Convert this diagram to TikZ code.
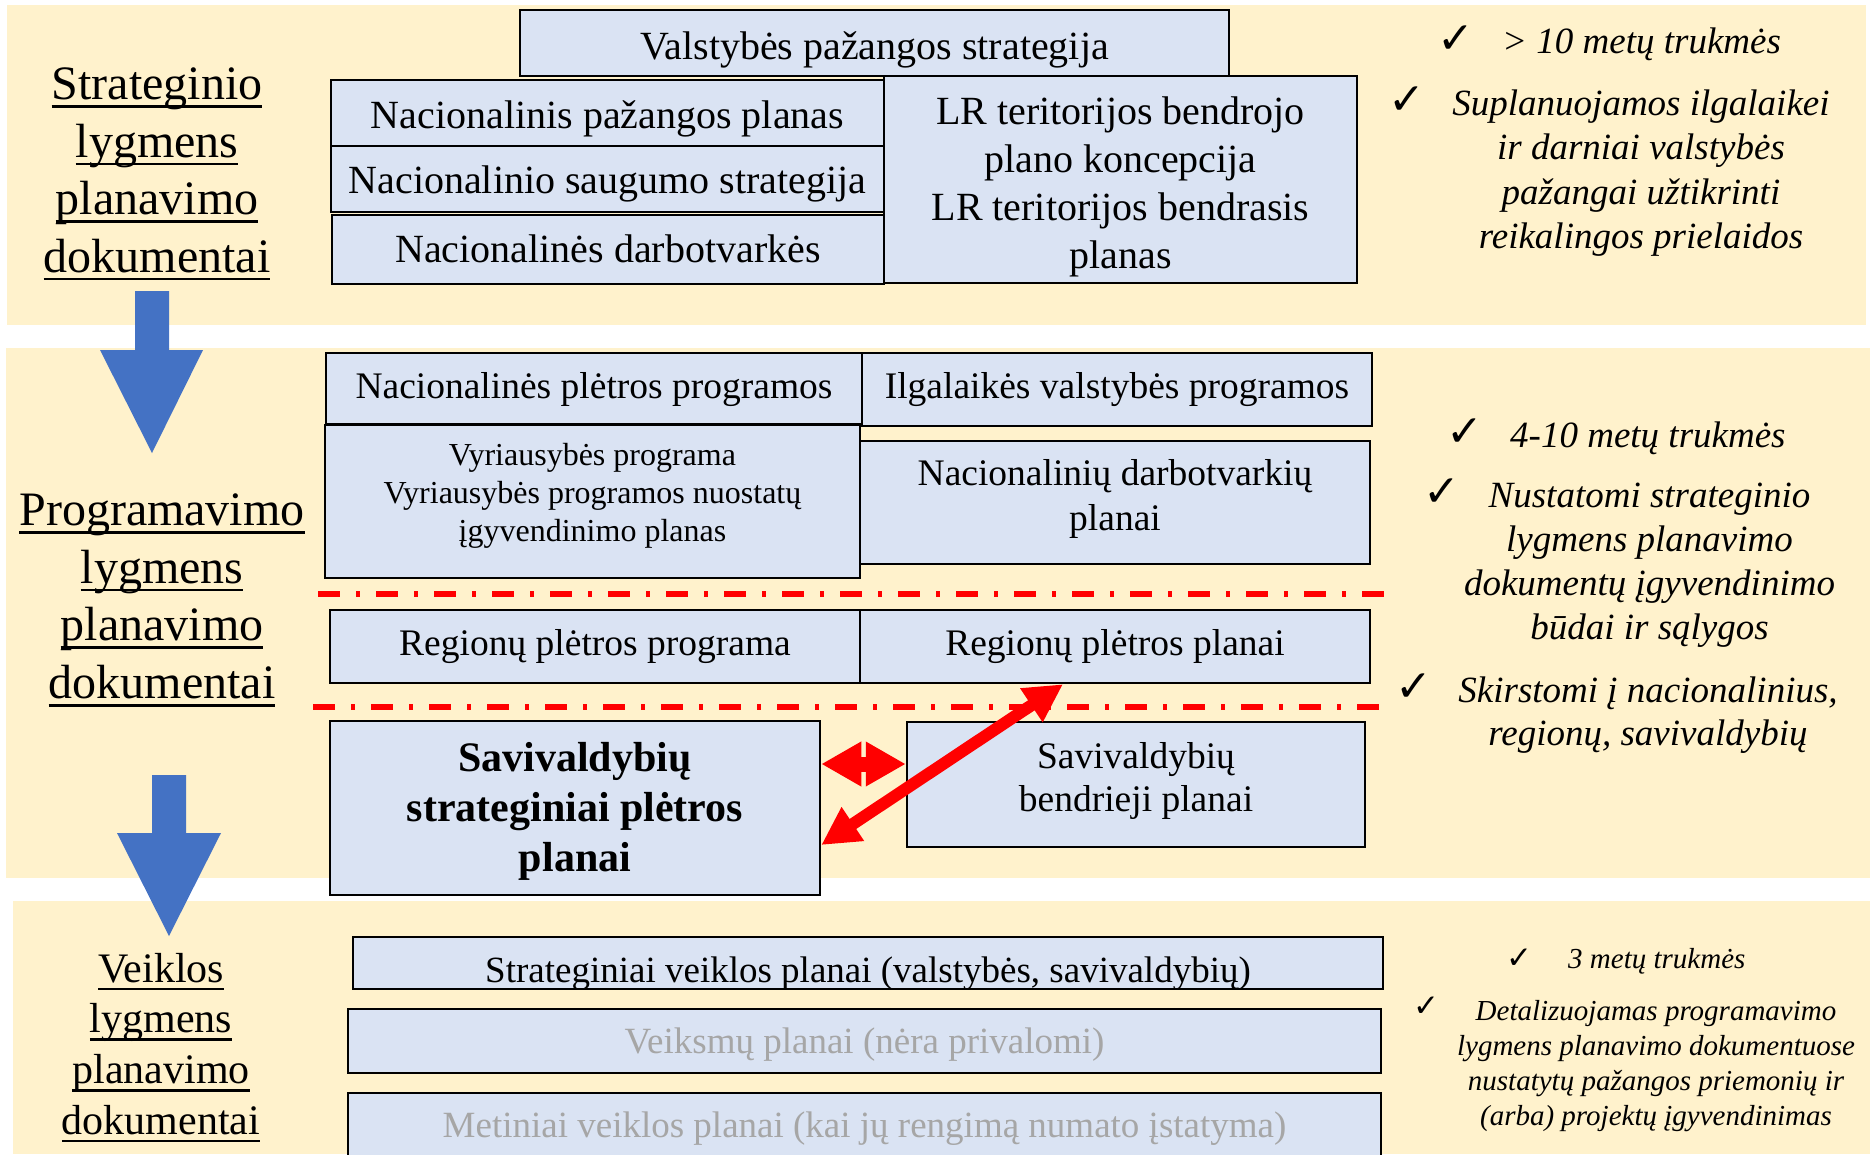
\documentclass[tikz,border=0pt]{standalone}
\usepackage{fontspec}
\setmainfont{Liberation Serif}
\newfontfamily\symfont{DejaVu Sans}
\usetikzlibrary{arrows.meta}
\definecolor{bandbg}{HTML}{FFF2CC}
\definecolor{boxbg}{HTML}{DAE3F3}
\definecolor{arrblue}{HTML}{4472C4}
\definecolor{txtgrey}{HTML}{A6A6A6}
\definecolor{arrred}{HTML}{FF0000}
\newcommand\ulx[1]{\setbox0\hbox{#1}\rlap{\rule[-8pt]{\wd0}{2.5pt}}\box0}
\newcommand\ml[1]{\begin{tabular}[t]{@{}c@{}}#1\end{tabular}}
\tikzset{
  band/.style={fill=bandbg, draw=none},
  docbox/.style={draw=black, line width=2.5pt, fill=boxbg, inner sep=0pt, text=black},
  fA/.style={font=\fontsize{40}{48}\selectfont},
  fB/.style={font=\fontsize{37.5}{45}\selectfont},
  fC/.style={font=\fontsize{37}{44}\selectfont},
  lab/.style={inner sep=0pt, anchor=base},
  chkbig/.style={inner sep=0pt, anchor=base, font=\symfont\bfseries\fontsize{44}{48}\selectfont},
  chksmall/.style={inner sep=0pt, anchor=base, font=\symfont\bfseries\fontsize{31}{34}\selectfont},
  itbig/.style={inner sep=0pt, font=\itshape\fontsize{37}{44.5}\selectfont},
  itsmall/.style={inner sep=0pt, font=\itshape\fontsize{29}{35}\selectfont},
  sepline/.style={draw=arrred, line width=6pt, dash pattern=on 22pt off 16pt on 4pt off 16pt},
  redarr/.style={draw=arrred, line width=#1},
}
\begin{document}
\begin{tikzpicture}[x=1pt,y=-1pt]
\useasboundingbox (0,0) rectangle (1870,1154);
% bands
\fill[band] (7,5) rectangle (1866,325);
\fill[band] (6,348) rectangle (1870,878);
\fill[band] (13,901) rectangle (1870,1154);
% blue block arrows
\fill[arrblue] (135,291) -- (169,291) -- (169,350) -- (203,350) -- (152,453) -- (100,350) -- (135,350) -- cycle;
\fill[arrblue] (152,775) -- (186,775) -- (186,833) -- (221,833) -- (169,936) -- (117,833) -- (152,833) -- cycle;
% separator lines
\draw[sepline] (318,594) -- (1388,594);
\draw[sepline] (313,707) -- (1385,707);
% left labels
\node[lab, font=\fontsize{48}{57.5}\selectfont] (labS) at (157,99.5)
  {\ml{\ulx{Strateginio}\\\ulx{lygmens}\\\ulx{planavimo}\\\ulx{dokumentai}}};
\node[lab, font=\fontsize{48}{57.7}\selectfont] (labP) at (162,525.5)
  {\ml{\ulx{Programavimo}\\\ulx{lygmens}\\\ulx{planavimo}\\\ulx{dokumentai}}};
\node[lab, font=\fontsize{42}{50.8}\selectfont] (labV) at (161,982)
  {\ml{\ulx{Veiklos}\\\ulx{lygmens}\\\ulx{planavimo}\\\ulx{dokumentai}}};
% band 1 boxes
\node[docbox, fA, minimum width=709pt, minimum height=66pt, text height=33pt, text depth=1pt] (vps) at (874.5,43) {Valstybės pažangos strategija};
\node[docbox, fA, minimum width=473pt, minimum height=207pt, text height=1pt, text depth=112pt] (lrt) at (1120.5,179.5)
  {\ml{LR teritorijos bendrojo\\plano koncepcija\\LR teritorijos bendrasis\\planas}};
\node[docbox, fA, minimum width=553pt, minimum height=66pt, text height=31pt, text depth=1pt] (npp) at (607.5,113) {Nacionalinis pažangos planas};
\node[docbox, fA, minimum width=553pt, minimum height=66pt, text height=29pt, text depth=1pt] (nss) at (607.5,179) {Nacionalinio saugumo strategija};
\node[docbox, fA, minimum width=552pt, minimum height=69pt, text height=26pt, text depth=1pt] (nd) at (608,249.5) {Nacionalinės darbotvarkės};
% band 2 boxes
\node[docbox, fB, minimum width=536pt, minimum height=71pt, text height=21pt, text depth=1pt] (npl) at (594,388.5) {Nacionalinės plėtros programos};
\node[docbox, fB, minimum width=510pt, minimum height=73pt, text height=19pt, text depth=1pt] (ivp) at (1117,389.5) {Ilgalaikės valstybės programos};
\node[docbox, font=\fontsize{32}{38}\selectfont, minimum width=535pt, minimum height=153pt, text height=1pt, text depth=74pt] (vp) at (592.5,501.5)
  {\ml{Vyriausybės programa\\Vyriausybės programos nuostatų\\įgyvendinimo planas}};
\node[docbox, fB, minimum width=510pt, minimum height=123pt, text height=1pt, text depth=36pt] (ndp) at (1115,502.5)
  {\ml{Nacionalinių darbotvarkių\\planai}};
\node[docbox, fB, minimum width=530pt, minimum height=73pt, text height=18pt, text depth=1pt] (rpp) at (595,646.5) {Regionų plėtros programa};
\node[docbox, fB, minimum width=510pt, minimum height=73pt, text height=18pt, text depth=1pt] (rpl) at (1115,646.5) {Regionų plėtros planai};
\node[docbox, font=\bfseries\fontsize{42}{50}\selectfont, minimum width=490pt, minimum height=174pt, text height=1pt, text depth=75pt] (ssp) at (575,808)
  {\ml{Savivaldybių\\strateginiai plėtros\\planai}};
\node[docbox, font=\fontsize{37.5}{43}\selectfont, minimum width=458pt, minimum height=125pt, text height=1pt, text depth=34pt] (sbp) at (1136,784.5)
  {\ml{Savivaldybių\\bendrieji planai}};
% band 3 boxes
\node[docbox, fC, minimum width=1030pt, minimum height=52pt, text height=39pt, text depth=1pt] (svp) at (868,963) {Strateginiai veiklos planai (valstybės, savivaldybių)};
\node[docbox, fC, text=txtgrey, minimum width=1033pt, minimum height=64pt, text height=25pt, text depth=1pt] (vkp) at (864.5,1041) {Veiksmų planai (nėra privalomi)};
\node[docbox, fC, text=txtgrey, minimum width=1033pt, minimum height=72pt, text height=17pt, text depth=1pt] (mvp) at (864.5,1129) {Metiniai veiklos planai (kai jų rengimą numato įstatyma)};
% red arrows
\draw[redarr=15pt, {Triangle[length=40pt,width=42pt]}-{Triangle[length=40pt,width=42pt]}]
  ([yshift=44pt]ssp.east) -- ([yshift=20.5pt]sbp.west);
\draw[redarr=12pt, {Triangle[length=38pt,width=38pt]}-{Triangle[length=38pt,width=38pt]}]
  ([xshift=-52pt]rpl.south) -- ([yshift=-37pt]ssp.east);
% right-hand notes, band 1
\node[chkbig] (c1) at (1455.5,53) {✓};
\node[itbig, anchor=base west] (t1) at (1502,53) {> 10 metų trukmės};
\node[chkbig] (c2) at (1406.5,114) {✓};
\node[itbig, anchor=base] (t2) at (1641,115)
  {\ml{Suplanuojamos ilgalaikei\\ir darniai valstybės\\pažangai užtikrinti\\reikalingos prielaidos}};
% band 2
\node[chkbig] (c3) at (1465,446) {✓};
\node[itbig, anchor=base west] (t3) at (1510,447) {4-10 metų trukmės};
\node[chkbig] (c4) at (1441.5,506) {✓};
\node[itbig, font=\itshape\fontsize{37}{44.3}\selectfont, anchor=base] (t4) at (1649.5,507)
  {\ml{Nustatomi strateginio\\lygmens planavimo\\dokumentų įgyvendinimo\\būdai ir sąlygos}};
\node[chkbig] (c5) at (1413.5,701) {✓};
\node[itbig, font=\itshape\fontsize{37}{43}\selectfont, anchor=base] (t5) at (1648,702)
  {\ml{Skirstomi į nacionalinius,\\regionų, savivaldybių}};
% band 3
\node[chksmall] (c6) at (1519.5,968) {✓};
\node[itsmall, anchor=base west] (t6) at (1568,968) {3 metų trukmės};
\node[chksmall] (c7) at (1426.5,1016) {✓};
\node[itsmall, anchor=base] (t7) at (1656,1020)
  {\ml{Detalizuojamas programavimo\\lygmens planavimo dokumentuose\\nustatytų pažangos priemonių ir\\(arba) projektų įgyvendinimas}};
\end{tikzpicture}
\end{document}
